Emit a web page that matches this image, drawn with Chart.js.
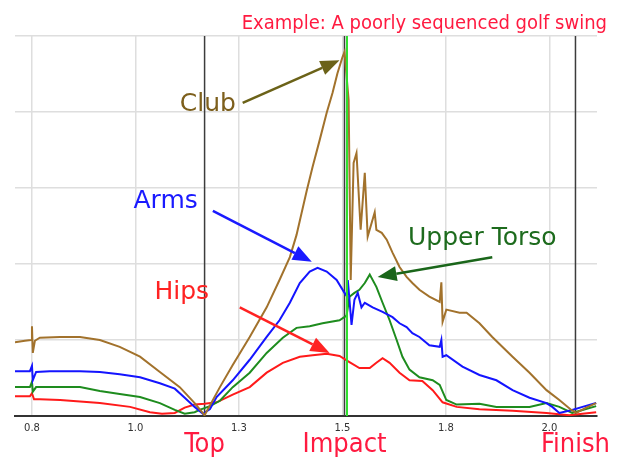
<!DOCTYPE html>
<html>
<head>
<meta charset="utf-8">
<script src="https://cdn.jsdelivr.net/npm/chart.js@4.4.1/dist/chart.umd.min.js"></script>
<style>
  html, body { margin: 0; padding: 0; background: #fff; }
  #wrap { width: 621px; height: 457px; }
</style>
</head>
<body>
<div id="wrap"><canvas id="swingChart" width="621" height="457"></canvas></div>
<script>
// time (s) and angular speed readings, one pair of arrays per body segment
const clubT = [0.749, 0.773, 0.788, 0.790, 0.792, 0.797, 0.809, 0.858, 0.906, 0.954, 1.002, 1.051, 1.099, 1.147, 1.183, 1.207,
    1.244, 1.275, 1.316, 1.357, 1.388, 1.413, 1.429, 1.454, 1.468, 1.485, 1.502, 1.516, 1.528, 1.540, 1.545, 1.555, 1.560,
    1.567, 1.574, 1.584, 1.594, 1.601, 1.618, 1.622, 1.635, 1.647, 1.661, 1.678, 1.695, 1.709, 1.726, 1.750, 1.775, 1.779,
    1.782, 1.791, 1.823, 1.840, 1.871, 1.902, 1.951, 1.992, 2.033, 2.064, 2.093, 2.105, 2.129, 2.153];
const clubV = [0.97, 0.99, 1.00, 1.18, 0.83, 0.99, 1.03, 1.04, 1.04, 1.00, 0.91, 0.78, 0.58, 0.38, 0.17, 0.01,
    0.38, 0.67, 1.04, 1.43, 1.79, 2.09, 2.38, 2.97, 3.28, 3.63, 3.99, 4.25, 4.51, 4.72, 4.79, 4.16, 1.79,
    3.33, 3.46, 2.45, 3.20, 2.36, 2.68, 2.45, 2.41, 2.32, 2.15, 1.96, 1.83, 1.75, 1.66, 1.57, 1.50, 1.76,
    1.24, 1.40, 1.36, 1.36, 1.22, 1.04, 0.78, 0.57, 0.34, 0.21, 0.08, 0.04, 0.11, 0.17];

const armsT = [0.749, 0.785, 0.790, 0.792, 0.800, 0.833, 0.906, 0.954, 1.002, 1.051, 1.099, 1.135, 1.159, 1.183, 1.203,
    1.220, 1.236, 1.275, 1.316, 1.357, 1.388, 1.413, 1.437, 1.461, 1.480, 1.502, 1.526, 1.545, 1.550, 1.553, 1.557,
    1.562, 1.569, 1.577, 1.586, 1.594, 1.613, 1.637, 1.661, 1.678, 1.695, 1.709, 1.726, 1.750, 1.775, 1.779, 1.782,
    1.791, 1.830, 1.871, 1.912, 1.951, 1.992, 2.033, 2.047, 2.064, 2.095, 2.120, 2.153];
const armsV = [0.59, 0.59, 0.66, 0.47, 0.58, 0.59, 0.59, 0.58, 0.55, 0.51, 0.43, 0.36, 0.24, 0.12, 0.03,
    0.09, 0.25, 0.47, 0.74, 1.04, 1.26, 1.49, 1.75, 1.90, 1.95, 1.90, 1.79, 1.62, 1.58, 1.79, 1.53,
    1.20, 1.53, 1.62, 1.43, 1.49, 1.43, 1.37, 1.30, 1.22, 1.17, 1.09, 1.04, 0.93, 0.91, 1.00, 0.78,
    0.80, 0.65, 0.54, 0.47, 0.34, 0.24, 0.17, 0.12, 0.04, 0.08, 0.12, 0.17];

const torsoT = [0.749, 0.785, 0.790, 0.792, 0.800, 0.906, 0.954, 1.002, 1.051, 1.099, 1.135, 1.159, 1.183, 1.195, 1.220,
    1.244, 1.275, 1.316, 1.357, 1.396, 1.429, 1.461, 1.492, 1.533, 1.550, 1.557, 1.569, 1.581, 1.594, 1.606, 1.622,
    1.637, 1.654, 1.671, 1.685, 1.702, 1.726, 1.758, 1.775, 1.791, 1.816, 1.871, 1.912, 1.992, 2.033, 2.064, 2.095,
    2.120, 2.153];
const torsoV = [0.38, 0.38, 0.45, 0.32, 0.38, 0.38, 0.33, 0.29, 0.25, 0.17, 0.08, 0.03, 0.05, 0.08, 0.13,
    0.20, 0.38, 0.57, 0.83, 1.03, 1.16, 1.18, 1.22, 1.26, 1.32, 1.57, 1.62, 1.66, 1.75, 1.86, 1.70,
    1.49, 1.26, 1.00, 0.78, 0.61, 0.51, 0.47, 0.41, 0.21, 0.15, 0.16, 0.12, 0.12, 0.17, 0.12, 0.04,
    0.08, 0.13];

const hipsT = [0.749, 0.785, 0.790, 0.795, 0.809, 0.858, 0.954, 1.027, 1.075, 1.104, 1.135, 1.159, 1.183, 1.207, 1.236,
    1.275, 1.316, 1.357, 1.396, 1.437, 1.468, 1.502, 1.533, 1.557, 1.581, 1.606, 1.622, 1.637, 1.654, 1.678, 1.702,
    1.733, 1.758, 1.782, 1.816, 1.871, 1.951, 2.033, 2.088, 2.120, 2.153];
const hipsV = [0.26, 0.26, 0.30, 0.22, 0.22, 0.21, 0.17, 0.12, 0.05, 0.03, 0.04, 0.11, 0.15, 0.16, 0.18,
    0.28, 0.38, 0.57, 0.70, 0.78, 0.80, 0.82, 0.79, 0.71, 0.63, 0.63, 0.70, 0.76, 0.70, 0.57, 0.47,
    0.46, 0.34, 0.18, 0.12, 0.09, 0.07, 0.04, 0.01, 0.03, 0.05];

// axis ticks (shown rounded to one decimal)
const xTicks = [0.79, 1.04, 1.29, 1.54, 1.79, 2.04];

// swing phases
const phaseNames = ['Top', 'Impact', 'Finish'];
const phaseTimes = [1.207, 1.545, 2.103];
const impactMark = 1.551;

// callouts: [text, label x, label y, arrow from x, y, arrow to x, y]
const callouts = [
    ['Club', 1.215, 4.10, 1.299, 4.12, 1.533, 4.68],
    ['Arms', 1.113, 2.82, 1.227, 2.70, 1.466, 2.03],
    ['Upper Torso', 1.878, 2.34, 1.902, 2.09, 1.625, 1.83],
    ['Hips', 1.152, 1.62, 1.292, 1.43, 1.509, 0.83]
];
const calloutText = ['#7d5f1c', '#1a1aff', '#1d6b1d', '#ff2222'];
const calloutArrow = ['#6b6218', '#1a1aff', '#1a661a', '#ff2222'];

const toPoints = (ts, vs) => ts.map((t, i) => ({ x: t, y: vs[i] }));

function drawArrow(ctx, x1, y1, x2, y2, color) {
    const ang = Math.atan2(y2 - y1, x2 - x1);
    const head = 19, half = 7.5;
    const bx = x2 - head * Math.cos(ang), by = y2 - head * Math.sin(ang);
    ctx.strokeStyle = color;
    ctx.fillStyle = color;
    ctx.lineWidth = 2.5;
    ctx.beginPath();
    ctx.moveTo(x1, y1);
    ctx.lineTo(bx, by);
    ctx.stroke();
    ctx.beginPath();
    ctx.moveTo(x2, y2);
    ctx.lineTo(bx + half * Math.sin(ang), by - half * Math.cos(ang));
    ctx.lineTo(bx - half * Math.sin(ang), by + half * Math.cos(ang));
    ctx.closePath();
    ctx.fill();
}

const swingMarks = {
    id: 'swingMarks',
    beforeDatasetsDraw(chart) {
        const { ctx, chartArea: a, scales: { x } } = chart;
        ctx.save();
        ctx.strokeStyle = '#3c3c3c';
        ctx.lineWidth = 1.5;
        phaseTimes.forEach(t => {
            const px = x.getPixelForValue(t);
            ctx.beginPath();
            ctx.moveTo(px, a.top);
            ctx.lineTo(px, a.bottom);
            ctx.stroke();
        });
        ctx.restore();
    },
    afterDatasetsDraw(chart) {
        const { ctx, chartArea: a, scales: { x, y } } = chart;
        ctx.save();
        // impact marker
        const gx = x.getPixelForValue(impactMark);
        ctx.strokeStyle = '#2ee02e';
        ctx.lineWidth = 2;
        ctx.beginPath();
        ctx.moveTo(gx, a.top);
        ctx.lineTo(gx, a.bottom);
        ctx.stroke();

        // callouts
        ctx.textAlign = 'center';
        ctx.textBaseline = 'middle';
        ctx.font = '25px "DejaVu Sans"';
        callouts.forEach((c, i) => {
            ctx.fillStyle = calloutText[i];
            ctx.fillText(c[0], x.getPixelForValue(c[1]), y.getPixelForValue(c[2]));
            drawArrow(ctx, x.getPixelForValue(c[3]), y.getPixelForValue(c[4]),
                x.getPixelForValue(c[5]), y.getPixelForValue(c[6]), calloutArrow[i]);
        });

        // phase names under the axis
        ctx.fillStyle = '#ff1a40';
        ctx.font = '27px "DejaVu Sans Condensed"';
        ctx.textBaseline = 'alphabetic';
        phaseTimes.forEach((t, i) => {
            ctx.fillText(phaseNames[i], x.getPixelForValue(t), 452);
        });

        // title
        ctx.font = '20px "DejaVu Sans Condensed"';
        ctx.textAlign = 'right';
        ctx.fillText('Example: A poorly sequenced golf swing', 607, 29);
        ctx.restore();
    }
};

const line = (pts, color) => ({
    data: pts,
    borderColor: color,
    borderWidth: 2,
    pointRadius: 0,
    tension: 0,
    fill: false
});

new Chart(document.getElementById('swingChart'), {
    type: 'line',
    data: {
        datasets: [
            line(toPoints(clubT, clubV), '#a2722c'),
            line(toPoints(armsT, armsV), '#1414ff'),
            line(toPoints(torsoT, torsoV), '#1e8c1e'),
            line(toPoints(hipsT, hipsV), '#ff1a1a')
        ]
    },
    options: {
        responsive: false,
        animation: false,
        layout: { padding: { left: 15, right: 24, top: 36, bottom: 0 } },
        plugins: {
            legend: { display: false },
            tooltip: { enabled: false }
        },
        scales: {
            x: {
                type: 'linear',
                min: 0.749,
                max: 2.155,
                afterBuildTicks: axis => { axis.ticks = xTicks.map(v => ({ value: v })); },
                afterFit: s => { s.height = 41; },
                ticks: {
                    autoSkip: false,
                    maxRotation: 0,
                    padding: 6,
                    color: '#333',
                    font: { family: 'DejaVu Sans', size: 10 },
                    callback: v => v.toFixed(1)
                },
                grid: { color: '#dedede', lineWidth: 1.5, drawTicks: false },
                border: { color: '#333', width: 2 }
            },
            y: {
                min: 0,
                max: 5,
                afterFit: s => { s.width = 0; },
                ticks: { display: false, stepSize: 1 },
                grid: { color: '#dedede', lineWidth: 1.5, drawTicks: false },
                border: { display: false }
            }
        }
    },
    plugins: [swingMarks]
});
</script>
</body>
</html>
